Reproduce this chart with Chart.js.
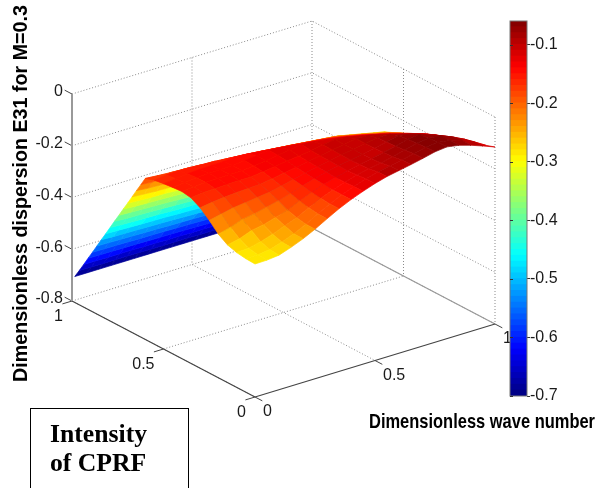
<!DOCTYPE html>
<html>
<head>
<meta charset="utf-8">
<title>Intensity of CPRF</title>
<script src="https://cdn.jsdelivr.net/npm/chart.js@4"></script>
<style>
html, body { margin: 0; padding: 0; background: #fff; overflow: hidden; width: 606px; height: 488px; }
canvas { position: absolute; top: 0; }
#surface { left: 0; }
#colorbar { left: 505px; }
#note {
    position: absolute; left: 30px; top: 408px; width: 159px; height: 100px;
    border: 1.5px solid #000; box-sizing: border-box; padding: 10px 0 0 19px;
    font: bold 25.7px/29px "Liberation Serif", serif; color: #000;
}
</style>
</head>
<body>
<canvas id="surface" width="606" height="488"></canvas>
<canvas id="colorbar" width="101" height="420"></canvas>
<div id="note">Intensity<br>of CPRF</div>
<script>
// wave number along one floor edge, CPRF intensity along the other
var waveNumber = [0, .05, .1, .15, .2, .25, .3, .35, .4, .45, .5, .55, .6, .65, .7, .75, .8, .85, .9, .95, 1];
var intensity = [0, .05, .1, .15, .2, .25, .3, .35, .4, .45, .5, .55, .6, .624, .648, .672, .696, .72, .744, .768, .792, .816, .84, .864, .888, .912, .936, .96, .985];

// one row per intensity value, one column per wave number
var dispersion = [
    [-.286,-.285,-.280,-.264,-.245,-.222,-.196,-.171,-.150,-.132,-.116,-.103,-.094,-.085,-.075,-.064,-.059,-.067,-.081,-.098,-.116],
    [-.284,-.283,-.277,-.262,-.244,-.221,-.195,-.171,-.150,-.132,-.116,-.104,-.095,-.086,-.076,-.065,-.060,-.067,-.080,-.100,-.128],
    [-.279,-.276,-.265,-.250,-.232,-.215,-.190,-.168,-.150,-.134,-.120,-.110,-.102,-.092,-.080,-.068,-.063,-.067,-.086,-.109,-.142],
    [-.268,-.258,-.240,-.232,-.218,-.203,-.182,-.163,-.146,-.134,-.122,-.112,-.104,-.094,-.084,-.071,-.067,-.083,-.101,-.123,-.152],
    [-.245,-.232,-.215,-.208,-.197,-.186,-.172,-.157,-.144,-.132,-.122,-.113,-.105,-.096,-.086,-.075,-.084,-.098,-.115,-.137,-.165],
    [-.210,-.200,-.190,-.184,-.178,-.172,-.162,-.151,-.140,-.130,-.121,-.113,-.105,-.096,-.088,-.089,-.103,-.115,-.130,-.150,-.178],
    [-.180,-.173,-.168,-.164,-.162,-.160,-.152,-.144,-.136,-.128,-.120,-.112,-.105,-.097,-.098,-.108,-.122,-.133,-.147,-.165,-.190],
    [-.160,-.155,-.153,-.151,-.150,-.150,-.144,-.138,-.131,-.125,-.118,-.110,-.104,-.109,-.119,-.128,-.140,-.152,-.165,-.180,-.205],
    [-.154,-.150,-.147,-.145,-.145,-.145,-.140,-.134,-.127,-.120,-.114,-.117,-.123,-.131,-.140,-.148,-.160,-.170,-.183,-.200,-.220],
    [-.157,-.152,-.148,-.145,-.144,-.143,-.138,-.132,-.126,-.130,-.135,-.141,-.146,-.152,-.160,-.168,-.180,-.190,-.200,-.215,-.235],
    [-.161,-.156,-.151,-.148,-.147,-.146,-.142,-.145,-.150,-.155,-.160,-.165,-.170,-.175,-.182,-.190,-.200,-.210,-.220,-.235,-.250],
    [-.166,-.160,-.158,-.159,-.162,-.164,-.168,-.172,-.176,-.180,-.185,-.190,-.195,-.200,-.205,-.210,-.220,-.230,-.240,-.255,-.265],
    [-.178,-.182,-.185,-.187,-.190,-.193,-.197,-.200,-.204,-.208,-.212,-.216,-.220,-.225,-.230,-.235,-.240,-.250,-.260,-.270,-.280],
    [-.211,-.214,-.217,-.219,-.222,-.225,-.228,-.231,-.235,-.239,-.243,-.246,-.250,-.255,-.259,-.264,-.269,-.278,-.288,-.297,-.306],
    [-.243,-.247,-.249,-.251,-.254,-.256,-.260,-.263,-.266,-.270,-.273,-.277,-.280,-.284,-.289,-.293,-.298,-.306,-.315,-.324,-.333],
    [-.276,-.279,-.282,-.283,-.286,-.288,-.291,-.294,-.297,-.300,-.303,-.307,-.310,-.314,-.318,-.322,-.326,-.334,-.343,-.351,-.359],
    [-.309,-.312,-.314,-.315,-.318,-.320,-.323,-.325,-.328,-.331,-.334,-.337,-.340,-.344,-.348,-.351,-.355,-.363,-.370,-.378,-.385],
    [-.341,-.344,-.346,-.347,-.349,-.351,-.354,-.356,-.359,-.362,-.365,-.368,-.370,-.373,-.377,-.380,-.384,-.391,-.398,-.404,-.411],
    [-.374,-.376,-.378,-.379,-.381,-.383,-.386,-.388,-.390,-.393,-.395,-.398,-.400,-.403,-.406,-.409,-.413,-.419,-.425,-.431,-.438],
    [-.406,-.409,-.410,-.411,-.413,-.415,-.417,-.419,-.421,-.423,-.426,-.428,-.430,-.433,-.436,-.438,-.441,-.447,-.453,-.458,-.464],
    [-.439,-.441,-.443,-.444,-.445,-.447,-.449,-.450,-.452,-.454,-.456,-.458,-.460,-.463,-.465,-.468,-.470,-.475,-.480,-.485,-.490],
    [-.472,-.473,-.475,-.476,-.477,-.478,-.480,-.481,-.483,-.485,-.487,-.488,-.490,-.492,-.494,-.497,-.499,-.503,-.508,-.512,-.516],
    [-.504,-.506,-.507,-.508,-.509,-.510,-.511,-.513,-.514,-.516,-.517,-.519,-.520,-.522,-.524,-.526,-.528,-.531,-.535,-.539,-.543],
    [-.537,-.538,-.539,-.540,-.541,-.542,-.543,-.544,-.545,-.546,-.548,-.549,-.550,-.552,-.553,-.555,-.556,-.559,-.563,-.566,-.569],
    [-.570,-.571,-.571,-.572,-.573,-.573,-.574,-.575,-.576,-.577,-.578,-.579,-.580,-.581,-.583,-.584,-.585,-.588,-.590,-.593,-.595],
    [-.602,-.603,-.603,-.604,-.604,-.605,-.606,-.606,-.607,-.608,-.609,-.609,-.610,-.611,-.612,-.613,-.614,-.616,-.618,-.619,-.621],
    [-.635,-.635,-.636,-.636,-.636,-.637,-.637,-.638,-.638,-.639,-.639,-.640,-.640,-.641,-.641,-.642,-.643,-.644,-.645,-.646,-.648],
    [-.667,-.668,-.668,-.668,-.668,-.668,-.669,-.669,-.669,-.669,-.670,-.670,-.670,-.670,-.671,-.671,-.671,-.672,-.672,-.673,-.674],
    [-.700,-.700,-.700,-.700,-.700,-.700,-.700,-.700,-.700,-.700,-.700,-.700,-.700,-.700,-.700,-.700,-.700,-.700,-.700,-.700,-.700]
];

var xTicks = [0, .5, 1];
var yTicks = [0, .5, 1];
var zTicks = [0, -.2, -.4, -.6, -.8];
var barTicks = [-.7, -.6, -.5, -.4, -.3, -.2, -.1];
var barMin = -.7;
var barMax = -.059;
var zFloor = -.8;
var zTop = 0;

var tickFont = '16px "Liberation Sans", Arial, sans-serif';
var titleFont = 'bold 19.7px "Liberation Sans", Arial, sans-serif';

// MATLAB's 64 step jet colormap
function jet(v) {
    var t = (v - barMin) / (barMax - barMin);
    var level = Math.min(63, Math.max(0, Math.floor(t * 64)));
    t = (level + .5) / 64;
    var ramp = function(c) { return Math.round(255 * Math.max(0, Math.min(1, 1.5 - Math.abs(4 * t - c)))); };
    return 'rgb(' + ramp(3) + ',' + ramp(2) + ',' + ramp(1) + ')';
}

// fixed 3d view, projects into the page space of the x/y scales
function project(x, y, z) {
    return {
        x: 255 + 240 * x - 183 * y,
        y: 397 - 73 * x - 96 * y - 258.75 * (z - zFloor)
    };
}

function line(points, color, width, dash) {
    return {
        data: points,
        showLine: true,
        borderColor: color,
        borderWidth: width,
        borderDash: dash || [],
        pointRadius: 0,
        fill: false
    };
}

var datasets = [];

// near cells first: chart.js paints the first dataset last
for (var j = 0; j < intensity.length - 1; j++) {
    for (var i = 0; i < waveNumber.length - 1; i++) {
        var mean = (dispersion[j][i] + dispersion[j][i + 1] + dispersion[j + 1][i] + dispersion[j + 1][i + 1]) / 4;
        var color = jet(mean);
        datasets.push({
            data: [
                project(waveNumber[i], intensity[j], dispersion[j][i]),
                project(waveNumber[i + 1], intensity[j], dispersion[j][i + 1]),
                project(waveNumber[i + 1], intensity[j + 1], dispersion[j + 1][i + 1]),
                project(waveNumber[i], intensity[j + 1], dispersion[j + 1][i]),
                project(waveNumber[i], intensity[j], dispersion[j][i])
            ],
            showLine: true,
            backgroundColor: color,
            borderColor: color,
            borderWidth: .7,
            pointRadius: 0,
            fill: 'shape'
        });
    }
}

var gridColor = '#8a8a8a';
var gridDash = [1, 2];

// box edges and axes
datasets.push(line([project(0, 1, zTop), project(0, 1, zFloor)], '#999', 2));
datasets.push(line([project(0, 1, zFloor), project(0, 0, zFloor)], '#444', 1.2));
datasets.push(line([project(0, 0, zFloor), project(1, 0, zFloor)], '#444', 1.2));
datasets.push(line([project(1, 1, zFloor), project(1, 0, zFloor)], '#999', 1.2));

zTicks.forEach(function(z) {
    datasets.push(line([project(0, 1, z), project(1, 1, z), project(1, 0, z)], gridColor, 1, gridDash));
    datasets.push(line([project(0, 1.04, z), project(0, 1, z)], '#444', 1));
});
xTicks.forEach(function(x) {
    if (x > 0) datasets.push(line([project(x, 1, zTop), project(x, 1, zFloor)], gridColor, 1, gridDash));
    if (x < 1) datasets.push(line([project(x, 1, zFloor), project(x, 0, zFloor)], gridColor, 1, gridDash));
    datasets.push(line([project(x, 0, zFloor), project(x, -.04, zFloor)], '#444', 1));
});
yTicks.forEach(function(y) {
    if (y < 1) datasets.push(line([project(1, y, zTop), project(1, y, zFloor)], gridColor, 1, gridDash));
    if (y > 0 && y < 1) datasets.push(line([project(0, y, zFloor), project(1, y, zFloor)], gridColor, 1, gridDash));
    datasets.push(line([project(0, y, zFloor), project(-.04, y, zFloor)], '#444', 1));
});

var axisText = {
    id: 'axisText',
    afterDatasetsDraw: function(chart) {
        var ctx = chart.ctx;
        var sx = chart.scales.x;
        var sy = chart.scales.y;
        function label(text, p, dx, dy, align) {
            ctx.textAlign = align;
            ctx.fillText(text, sx.getPixelForValue(p.x) + dx, sy.getPixelForValue(p.y) + dy);
        }
        ctx.save();
        ctx.fillStyle = '#1a1a1a';
        ctx.font = tickFont;
        ctx.textBaseline = 'middle';
        zTicks.forEach(function(z) {
            label(z === 0 ? '0' : z.toFixed(1), project(0, 1, z), -9, -2, 'right');
        });
        yTicks.forEach(function(y) {
            label(String(y), project(0, y, zFloor), -9, 15.5, 'right');
        });
        xTicks.forEach(function(x) {
            label(String(x), project(x, 0, zFloor), 8, 15, 'left');
        });

        ctx.fillStyle = '#000';
        ctx.font = titleFont;
        ctx.textAlign = 'center';
        ctx.fillText('Dimensionless wave number', 482, 423, 226);
        ctx.translate(22, 193.5);
        ctx.rotate(-Math.PI / 2);
        ctx.fillText('Dimensionless dispersion E31 for M=0.3', 0, 0, 378);
        ctx.restore();
    }
};

new Chart(document.getElementById('surface'), {
    type: 'scatter',
    data: { datasets: datasets },
    plugins: [axisText],
    options: {
        responsive: false,
        animation: false,
        events: [],
        scales: {
            x: { type: 'linear', min: 0, max: 606, display: false },
            y: { type: 'linear', min: 0, max: 488, reverse: true, display: false }
        },
        plugins: { legend: { display: false }, tooltip: { enabled: false } }
    }
});

// colour bar, one floating bar per colormap step
var barSets = [];
for (var n = 0; n < 64; n++) {
    var lo = barMin + (barMax - barMin) * n / 64;
    var hi = barMin + (barMax - barMin) * (n + 1) / 64;
    barSets.push({
        data: [[lo, hi]],
        backgroundColor: jet((lo + hi) / 2),
        borderWidth: 0,
        inflateAmount: .5,
        barPercentage: 1,
        categoryPercentage: 1
    });
}

var barFrame = {
    id: 'barFrame',
    afterDraw: function(chart) {
        var ctx = chart.ctx;
        var area = chart.chartArea;
        ctx.save();
        ctx.strokeStyle = '#777';
        ctx.lineWidth = 1;
        ctx.strokeRect(area.left, area.top, area.right - area.left, area.bottom - area.top);
        ctx.strokeStyle = '#333';
        chart.scales.y.ticks.forEach(function(t) {
            var py = Math.round(chart.scales.y.getPixelForValue(t.value)) + .5;
            ctx.beginPath();
            ctx.moveTo(area.left, py);
            ctx.lineTo(area.left + 3, py);
            ctx.stroke();
        });
        ctx.restore();
    }
};

new Chart(document.getElementById('colorbar'), {
    type: 'bar',
    data: { labels: [''], datasets: barSets },
    plugins: [barFrame],
    options: {
        responsive: false,
        animation: false,
        events: [],
        grouped: false,
        layout: { padding: { left: 5, top: 21, bottom: 24, right: 0 } },
        scales: {
            x: { display: false },
            y: {
                position: 'right',
                min: barMin,
                max: barMax,
                afterBuildTicks: function(scale) {
                    scale.ticks = barTicks.map(function(v) { return { value: v }; });
                },
                afterFit: function(scale) { scale.width = 79; },
                grid: { drawOnChartArea: false, tickLength: 3, tickColor: '#333' },
                border: { display: false },
                ticks: {
                    color: '#1a1a1a',
                    padding: 0,
                    font: { family: '"Liberation Sans", Arial, sans-serif', size: 16 },
                    callback: function(v) { return v.toFixed(1); }
                }
            }
        },
        plugins: { legend: { display: false }, tooltip: { enabled: false } }
    }
});
</script>
</body>
</html>
